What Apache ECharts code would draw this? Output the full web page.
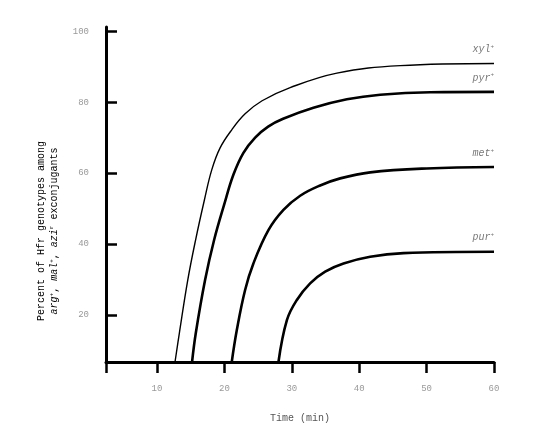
<!DOCTYPE html>
<html>
<head>
<meta charset="utf-8">
<script src="https://cdn.jsdelivr.net/npm/echarts@6/dist/echarts.min.js"></script>
<style>
  html, body { margin: 0; padding: 0; background: #fff; }
  #chart { width: 560px; height: 445px; }
</style>
</head>
<body>
<div id="chart"></div>
<script>
// axis range
const X_MIN = 2.43
const X_MAX = 60
const Y_MIN = 6.7
const Y_MAX = 101.2

const xTicks = [10, 20, 30, 40, 50, 60]
const yTicks = [20, 40, 60, 80, 100]

// [time (min), percent]
const xylData = [
  [12.67, 6.7], [13.31, 14.8], [14.56, 29.8], [15.72, 41.1], [17.03, 52.4],
  [18.12, 60.9], [19.36, 67.1], [21.09, 72.2], [23.07, 76.7], [25.59, 80.4],
  [29.75, 84.1], [36.69, 88.2], [46.09, 90.3], [60, 90.9],
]
const pyrData = [
  [15.2, 6.7], [15.75, 14.8], [17.13, 29.8], [18.47, 41.1], [19.95, 51.0],
  [21.33, 59.5], [22.82, 65.7], [24.56, 70.0], [26.49, 73.1], [28.71, 75.3],
  [33.21, 78.4], [38.17, 80.8], [43.12, 82.1], [50.55, 82.8], [60, 82.9],
]
const metData = [
  [21.09, 6.7], [21.84, 15.7], [23.07, 27.0], [24.3, 34.5], [26.53, 43.9],
  [28.76, 49.6], [31.24, 53.6], [34.21, 56.5], [37.18, 58.5], [41.63, 60.2],
  [50, 61.3], [60, 61.7],
]
const purData = [
  [28.02, 6.7], [29.27, 18.5], [30.75, 24.2], [32.72, 28.9], [34.95, 32.2],
  [37.67, 34.5], [41.63, 36.4], [46.58, 37.4], [60, 37.8],
]

const curveNames = ["xyl", "pyr", "met", "pur"]
const curveData = [xylData, pyrData, metData, purData]
const curveWidths = [1.4, 2.6, 2.6, 2.6]

const FONT = "Liberation Mono"
const chart = echarts.init(document.getElementById("chart"), null, { renderer: "canvas" })

function buildSeries(name, data, width) {
  return {
    name,
    type: "line",
    smooth: 0.4,
    symbol: "none",
    clip: true,
    lineStyle: { color: "#000", width },
    data,
    markPoint: {
      symbol: "circle",
      symbolSize: 0,
      silent: true,
      itemStyle: { color: "transparent" },
      label: {
        show: true,
        position: "top",
        align: "right",
        distance: 8,
        formatter: "{g|" + name + "}{s|+}",
        rich: {
          g: { fontFamily: FONT, fontStyle: "italic", fontSize: 10, color: "#777" },
          s: { fontFamily: FONT, fontSize: 6, color: "#777", padding: [0, 0, 6, 0] },
        },
      },
      data: [{ coord: data[data.length - 1] }],
    },
  }
}

chart.setOption({
  animation: false,
  backgroundColor: "#fff",
  grid: { left: 106, right: 66, top: 27, bottom: 83 },
  xAxis: {
    type: "value",
    min: X_MIN,
    max: X_MAX,
    name: "Time (min)",
    nameLocation: "middle",
    nameGap: 51,
    nameTextStyle: { fontFamily: FONT, fontSize: 10, color: "#555" },
    axisLine: { show: true, onZero: false, lineStyle: { color: "#000", width: 3 } },
    axisTick: {
      show: true,
      length: 11,
      customValues: [X_MIN].concat(xTicks),
      lineStyle: { color: "#000", width: 2.5 },
    },
    axisLabel: {
      customValues: xTicks,
      margin: 22,
      fontFamily: FONT,
      fontSize: 9,
      color: "#999",
    },
    splitLine: { show: false },
  },
  yAxis: {
    type: "value",
    min: Y_MIN,
    max: Y_MAX,
    axisLine: { show: true, onZero: false, lineStyle: { color: "#000", width: 3 } },
    axisTick: {
      show: true,
      inside: true,
      length: 11,
      customValues: yTicks,
      lineStyle: { color: "#000", width: 2.5 },
    },
    axisLabel: {
      customValues: yTicks,
      margin: 17,
      fontFamily: FONT,
      fontSize: 9,
      color: "#999",
      padding: [0, 0, 7, 0],
    },
    splitLine: { show: false },
  },
  graphic: [
    {
      type: "text",
      x: 48,
      y: 231,
      rotation: Math.PI / 2,
      style: {
        text: "{n|Percent of Hfr genotypes among}\n" +
          "{i|arg}{s|+}{n|, }{i|mal}{s|+}{n|, }{i|azi}{s|r}{n| exconjugants}",
        align: "center",
        verticalAlign: "middle",
        rich: {
          n: { fontFamily: FONT, fontSize: 10, color: "#666", lineHeight: 13 },
          i: { fontFamily: FONT, fontSize: 10, fontStyle: "italic", color: "#666", lineHeight: 13 },
          s: { fontFamily: FONT, fontSize: 6, color: "#666", lineHeight: 6, padding: [0, 0, 7, 0] },
        },
      },
    },
  ],
  series: curveNames.map((n, i) => buildSeries(n, curveData[i], curveWidths[i])),
})
</script>
</body>
</html>
